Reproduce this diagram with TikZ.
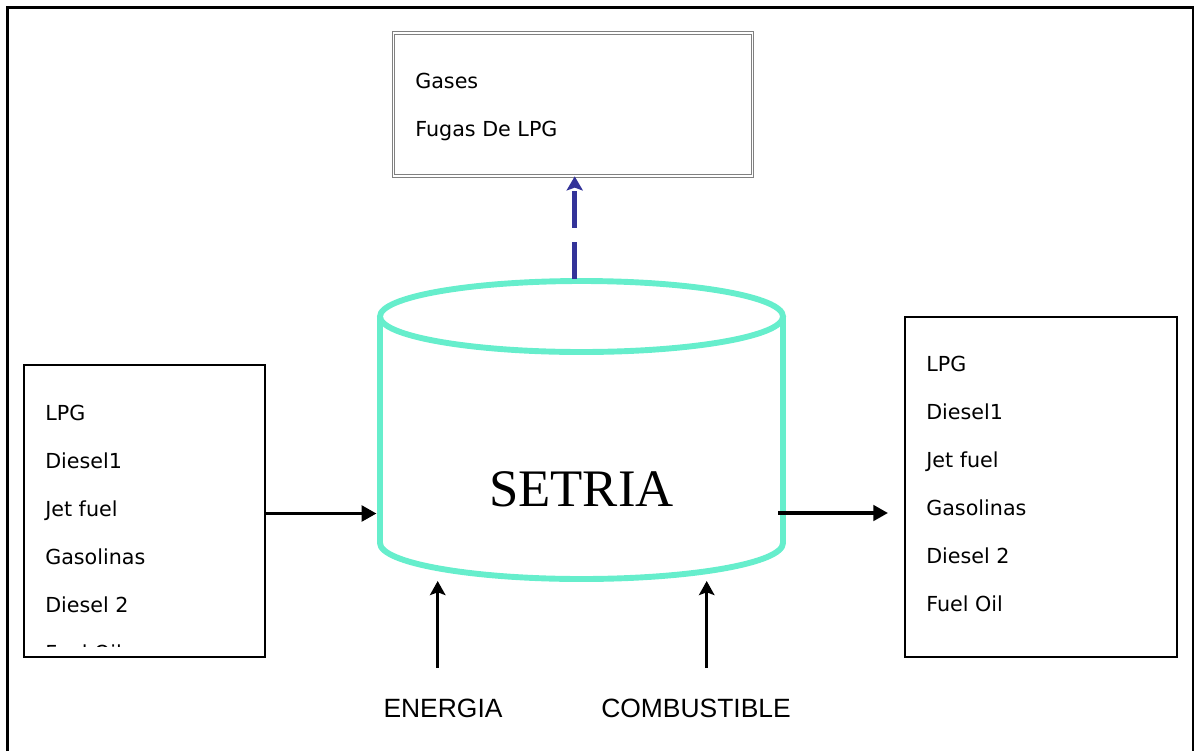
\documentclass[tikz,border=0pt]{standalone}
\usepackage{fontspec}
\setmainfont{Liberation Serif}
\newfontfamily\listfont{DejaVu Sans}
\newfontfamily\labelfont{Liberation Sans}
\usetikzlibrary{arrows.meta}
\definecolor{tankcol}{RGB}{102,238,204}
\definecolor{ventcol}{RGB}{51,51,153}

\begin{document}
\begin{tikzpicture}
	[x=0.025cm,y=-0.025cm,
	 box/.style={draw,line width=1.3pt,inner sep=0pt},
	 item/.style={anchor=base west,inner sep=0pt,font=\listfont\fontsize{14.7}{17}\selectfont},
	 tag/.style={anchor=base,inner sep=0pt,font=\labelfont\fontsize{18.8}{20}\selectfont},
	 flow/.style={-{Triangle[length=10.5pt,width=11pt]},line width=2.5pt},
	 supply/.style={-{Stealth[length=10pt,width=11pt,inset=2pt]},line width=2.5pt},
	 vent/.style={-{Stealth[length=10pt,width=11.5pt,inset=2pt]},line width=3.3pt,ventcol,dash pattern=on 26pt off 10.5pt}]
	\useasboundingbox (0,0) rectangle (1194,751);
	% outer frame, open at the bottom
	\draw[line width=1.5pt] (7.5,751) -- (7.5,7.5) -- (1193,7.5) -- (1193,751);

	% the tank
	\draw[tankcol,line width=4.2pt] (380,316.5) -- (380,543) arc[start angle=180,end angle=0,x radius=201.5,y radius=36] -- (783,316.5);
	\draw[tankcol,line width=4.2pt] (581.5,316.5) ellipse[x radius=201.5,y radius=35.5];
	\node[font=\fontsize{37.5}{40}\selectfont,inner sep=0pt,anchor=base] (tank) at (581.5,506.5) {SETRIA};
	\coordinate (tanktop) at (574.7,279);
	\coordinate (tankin) at (376.5,513.5);
	\coordinate (tankout) at (778,513);
	\coordinate (tankbase1) at (437.7,581);
	\coordinate (tankbase2) at (706.7,581);

	% losses box on top
	\node[box,draw=gray,line width=0.5pt,double,double distance=1.3pt,minimum width=8.975cm,minimum height=3.575cm] (loss) at (573,104.5) {};
	\node[item] (loss1) at (415,88) {Gases};
	\node[item] (loss2) at (415,136.5) {Fugas De LPG};

	% feed box, last line cut by the frame
	\node[box,minimum width=6.025cm,minimum height=7.3cm] (feed) at (144.5,511) {};
	\begin{scope}
		\clip (24,365) rectangle (265,646);
		\foreach \t [count=\i] in {LPG,Diesel1,Jet fuel,Gasolinas,Diesel 2,Fuel Oil}
			\node[item] (feed\i) at (45,{372+48*\i}) {\t};
	\end{scope}

	% products box
	\node[box,minimum width=6.8cm,minimum height=8.5cm] (prod) at (1041,487) {};
	\foreach \t [count=\i] in {LPG,Diesel1,Jet fuel,Gasolinas,Diesel 2,Fuel Oil}
		\node[item] (prod\i) at (926,{323.7+48*\i}) {\t};
	\coordinate (prodin) at (888,513);

	% streams
	\draw[flow] (feed.east |- tankin) -- (tankin);
	\draw[flow] (tankout) -- (prodin);
	\draw[vent] (tanktop) -- (tanktop |- loss.south);

	% utilities below the tank
	\node[tag] (energy) at (443,717.3) {ENERGIA};
	\node[tag] (fuel) at (696,717.3) {COMBUSTIBLE};
	\coordinate (energytail) at (437.7,668);
	\coordinate (fueltail) at (706.7,668);
	\draw[supply] (energytail) -- (tankbase1);
	\draw[supply] (fueltail) -- (tankbase2);
\end{tikzpicture}
\end{document}
